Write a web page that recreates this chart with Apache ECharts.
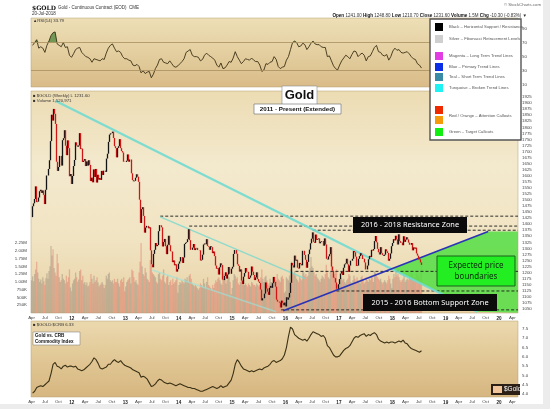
<!DOCTYPE html>
<html>
<head>
<meta charset="utf-8">
<script src="https://cdn.jsdelivr.net/npm/echarts@6/dist/echarts.min.js"></script>
<style>
html, body { margin: 0; padding: 0; background: #ececec; }
#paper { position: absolute; left: 0; top: 0; width: 543px; height: 404px; background: #ffffff; }
#chart { position: absolute; left: 0; top: 0; width: 550px; height: 409px; }
</style>
</head>
<body>
<div id="paper"></div>
<div id="chart"></div>
<script>
// weekly closes, one per Friday from 2011-04-01 to 2018-07-20
const firstWeek = '2011-04-01';
const closes = [
  // 2011
  1429,1474,1486,1504,1556, 1491,1493,1510,1536, 1542,1529,1539,1521, 1483,1542,1601,1601,1628, 1664,1743,1852,1828,
  1876,1856,1814,1658,1620, 1636,1682,1642,1747, 1755,1788,1724,1685, 1746,1714,1598,1607,1566,
  // 2012
  1599,1640,1665,1738, 1725,1720,1725,1776, 1710,1712,1657,1662,1669, 1640,1659,1642,1664, 1645,1578,1592,1573,
  1626,1595,1628,1572,1604, 1584,1590,1583,1620, 1603,1621,1616,1671,1691, 1740,1770,1775,1776, 1782,1756,1722,1714,
  1676,1715,1722,1751,1714, 1702,1696,1658,1657,
  // 2013
  1657,1662,1688,1658, 1667,1667,1610,1582, 1577,1579,1592,1606,1596, 1575,1501,1405,1462, 1470,1434,1365,1386,1393,
  1383,1387,1292,1234, 1222,1277,1294,1322, 1309,1314,1371,1396,1395, 1387,1308,1326,1339, 1309,1276,1315,1352,
  1313,1288,1287,1243,1250, 1230,1234,1204,1214,
  // 2014
  1237,1246,1264,1264,1240, 1262,1318,1323,1326, 1338,1379,1334,1294, 1303,1318,1293,1300, 1302,1293,1293,1292,1250,
  1253,1274,1316,1320, 1317,1338,1310,1307, 1294,1309,1305,1280,1287, 1268,1229,1216,1218, 1192,1222,1238,1231,1171,
  1169,1186,1201,1175, 1192,1223,1195,1195,
  // 2015
  1216,1224,1277,1293,1278, 1234,1228,1204,1213, 1167,1153,1183,1198, 1219,1204,1203,1174, 1179,1188,1225,1204,1190,
  1169,1180,1201,1173, 1163,1157,1130,1085,1094, 1094,1113,1159,1134, 1121,1108,1137,1145, 1137,1156,1182,1162,1142,
  1088,1080,1076,1056, 1084,1075,1065,1076,
  // 2016
  1060,1098,1088,1097,1116, 1158,1240,1230,1221, 1270,1249,1253,1220, 1217,1240,1235,1230,1290, 1290,1273,1253,1220,
  1244,1276,1295,1321, 1340,1366,1327,1323,1357, 1335,1338,1341,1321, 1327,1330,1311,1341,1316, 1257,1254,1267,1276,
  1305,1225,1208,1179, 1177,1159,1133,1133,1152,
  // 2017
  1173,1196,1204,1190, 1220,1234,1238,1257, 1234,1203,1229,1249,1249, 1257,1289,1284,1266, 1227,1229,1257,1268,
  1280,1272,1256,1257,1242, 1213,1229,1255,1269, 1264,1294,1291,1297, 1330,1351,1325,1298,1284, 1275,1305,1280,1273,
  1269,1274,1296,1288, 1281,1249,1257,1279,1309,
  // 2018
  1322,1338,1333,1352, 1337,1316,1358,1330, 1323,1324,1313,1350,1327, 1336,1346,1337,1324, 1315,1322,1292,1304,
  1299,1303,1279,1270,1254, 1255,1242,1231.6
];

// weekly volume, thousands of contracts
const volumes = [
  1050,1180,1020,1250,1400, 1650,1300,1100,1000, 1080,950,1150,1020, 900,1120,1280,1100,1350, 1500,2150,1850,2050,
  1450,1300,1200,1900,1600, 1150,1000,1050,1250, 1100,1050,950,1200, 1000,1150,1400,820,700,
  950,1050,1100,1300, 1150,1000,1080,1350, 1400,1050,1200,950,1000, 900,980,850,880, 1000,1250,1100,950,
  1200,1000,1050,1150,980, 850,900,950,1000, 920,800,900,1200,1100, 1250,1300,1050,1000, 1050,950,1100,1000,
  1000,1100,950,850,1050, 1100,1000,1150,700,
  850,1000,1050,1100, 1150,950,1400,1350, 1150,1000,1050,950,900, 1300,1650,2250,1500, 1250,1200,1450,1300,1100,
  1050,1000,1700,1550, 1300,1250,1200,1150, 1000,950,1250,1300,1100, 1050,1200,1400,1000, 950,1150,1200,900,
  1000,1050,900,1100,950, 1000,1050,1150,650,
  900,1000,950,1050,1000, 950,1100,1050,1150, 1000,1200,1250,1100, 950,900,850,900, 850,800,750,800,950,
  900,850,1100,950, 800,1000,1150,900, 850,800,750,900,800, 950,1050,1000,1100, 1150,1050,950,900,1300,
  1250,1100,950,1050, 1100,1150,1000,600,
  800,1050,1250,1200,1100, 1150,950,900,1000, 1100,1000,1050,900, 950,900,850,950, 900,850,1000,950,900,
  900,850,950,900, 850,900,1150,1400,1100, 1000,1150,1200,1050, 900,950,1100,1000, 1000,1150,1100,1000,1050,
  1250,1100,1050,1000, 1150,1200,1100,650,
  700,1150,1100,1050,1200, 1400,1650,1300,1250, 1350,1200,1100,1050, 1000,1150,1100,1050,1350, 1300,1200,1250,1150,
  1200,1350,1450,1800, 1500,1450,1300,1200,1250, 1150,1100,1050,1000, 1100,1200,1150,1100,1250, 1550,1300,1150,1100,
  1350,1900,1500,1300, 1250,1350,1400,900,750,
  1050,1150,1100,1050, 1100,1000,950,1050, 1100,1250,1200,1000,950, 1050,1200,1100,1000, 1150,1050,1000,950,
  1150,1200,1050,950,1000, 1150,1050,1000,1100, 1050,1200,1150,1000, 1350,1300,1200,1150,1100, 1050,1100,1000,950,
  1000,1050,1000,950, 1050,1200,1100,950,800,
  1100,1250,1150,1350, 1200,1250,1150,1050, 1000,1050,1100,1250,1000, 1050,1100,1050,1150, 1200,1300,1250,1100,
  1150,1100,1300,1250,1200, 1100,1300,1521
];

// RSI(14) and Gold:CRB ratio, read every second week (weeks 2, 4, 6 ...)
const rsiValues = [
  66,70,74,62,64,62,56,66,72,80,84,85,68,66,64,70,63,64,52,49,
  54,60,62,63,56,53,50,49,47,42,47,46,45,44,47,46,55,62,66,68,62,57,58,56,50,47,
  47,45,44,38,37,39,36,27,30,26,28,29,20,25,33,38,46,47,42,41,40,44,40,36,35,37,
  40,43,47,56,58,60,52,50,50,49,44,46,52,55,52,50,48,45,38,35,41,33,34,38,43,42,
  48,57,50,45,40,43,47,46,45,48,45,43,43,38,29,31,40,39,42,43,50,46,36,33,35,36,
  45,50,60,70,72,70,64,65,69,67,60,64,69,72,68,67,67,64,63,63,50,51,44,37,33,31,
  38,44,48,52,50,47,53,58,57,50,53,55,52,44,50,51,57,63,66,57,56,52,51,53,45,50,
  58,62,59,60,56,55,56,57,54,50,47,46,40,38,33.79
];
const ratioValues = [
  4.05,4.15,4.35,4.4,4.45,4.4,4.5,4.6,4.7,5.1,5.6,5.7,5.5,5.45,5.35,5.5,5.55,5.45,5.5,5.5,
  5.45,5.5,5.35,5.3,5.25,5.3,5.4,5.5,5.6,5.75,5.95,5.85,5.65,5.4,5.35,5.4,5.45,5.6,5.6,5.75,5.85,5.75,5.7,5.8,5.65,5.55,
  5.5,5.45,5.4,5.3,5.25,5.2,5.15,4.9,4.95,4.9,4.8,4.6,4.4,4.45,4.55,4.7,4.8,4.75,4.65,4.6,4.55,4.6,4.55,4.5,4.45,4.5,
  4.55,4.5,4.45,4.4,4.35,4.35,4.3,4.3,4.25,4.2,4.15,4.15,4.2,4.25,4.3,4.35,4.4,4.35,4.3,4.35,4.45,4.35,4.4,4.45,4.6,4.75,
  5.1,5.6,5.85,5.7,5.5,5.35,5.3,5.25,5.2,5.25,5.2,5.25,5.3,5.35,5.3,5.4,5.45,5.5,5.6,5.75,5.8,5.7,5.75,5.8,5.9,6.1,
  6.5,7.1,7.6,7.5,7.2,7.1,7.0,6.95,6.9,6.95,6.85,7.0,7.2,7.35,7.3,7.25,7.2,7.1,7.15,7.0,6.6,6.5,6.3,6.1,6.0,6.0,
  6.05,6.2,6.35,6.45,6.5,6.6,6.8,7.0,7.1,7.05,7.15,7.2,7.25,7.1,7.2,7.15,7.25,7.3,7.2,6.95,6.85,6.8,6.75,6.8,6.75,6.8,
  6.8,6.75,6.8,6.85,6.8,6.9,6.75,6.7,6.55,6.45,6.4,6.35,6.3,6.25,6.33
];

// axis labels
const priceTicks = [1050,1075,1100,1125,1150,1175,1200,1225,1250,1275,1300,1325,1350,1375,1400,1425,1450,1475,
  1500,1525,1550,1575,1600,1625,1650,1675,1700,1725,1750,1775,1800,1825,1850,1875,1900,1925];
const rsiTicks = [10, 30, 50, 70, 90];
const ratioTicks = [4.0, 4.5, 5.0, 5.5, 6.0, 6.5, 7.0, 7.5];
const volumeTicks = [250000, 500000, 750000, 1000000, 1250000, 1500000, 1750000, 2000000, 2250000];
const monthNames = ['Jan','Feb','Mar','Apr','May','Jun','Jul','Aug','Sep','Oct','Nov','Dec'];

// annotations drawn on the price panel
const levelPrices = [1433, 1392, 1375, 1205, 1124, 1046];
const levelStarts = ['2013-08-28', '2014-03-14', '2016-07-06', '2016-03-10', '2016-12-15', '2015-12-03'];
const trendStarts = ['2011-09-10', '2013-08-28', '2013-07-05', '2015-12-17'];
const trendStartPrices = [1910, 1430, 1211, 1042];
const trendEnds = ['2019-08-05', '2016-05-15', '2015-10-30', '2019-10-19'];
const trendEndPrices = [1038, 1175, 1038, 1370];
const trendColors = ['rgba(112,218,210,0.9)', 'rgba(120,216,206,0.8)', 'rgba(155,226,216,0.65)', '#2a32b5'];
const zoneDates = ['2017-12-29', '2019-10-19', '2020-05-10', '2020-05-10', '2019-08-05'];
const zonePrices = [1215, 1370, 1370, 1034, 1038];

const DAY = 86400000;
const t0 = Date.parse(firstWeek);
const weekTime = i => t0 + i * 7 * DAY;
const xMin = Date.parse('2011-03-28');
const xMax = Date.parse('2020-05-10');

const quarterTicks = [];
for (let y = 2011; y <= 2020; y++) {
  [0, 3, 6, 9].forEach(m => {
    const t = Date.UTC(y, m, 1);
    if (t > xMin && t < xMax) quarterTicks.push(t);
  });
}

const candles = closes.map((c, i) => {
  const o = i ? closes[i - 1] : c;
  return [weekTime(i), o, c, Math.min(o, c), Math.max(o, c)];
});
const volumeBars = volumes.map((v, i) => ({
  value: [weekTime(i), v * 1000],
  itemStyle: { color: (i && closes[i] < closes[i - 1]) ? 'rgba(226,128,112,0.5)' : 'rgba(160,146,128,0.5)' }
}));
const rsiData = rsiValues.map((v, k) => [weekTime(2 * k + 1), v]);
const rsiHot = rsiValues.map((v, k) => [weekTime(2 * k + 1), Math.max(v, 70)]);
const ratioData = ratioValues.map((v, k) => [weekTime(2 * k + 1), v]);

const FONT = '"Liberation Sans", Arial, sans-serif';
const tiny = { fontSize: 4.4, color: '#444', fontFamily: FONT };

const grad = stops => new echarts.graphic.LinearGradient(0, 0, 0, 1,
  stops.map((c, i) => ({ offset: i / (stops.length - 1), color: c })));

const timeAxis = (gridIndex, showLabels) => ({
  type: 'value', gridIndex, min: xMin, max: xMax,
  axisLine: { show: false }, axisTick: { show: false }, splitLine: { show: false },
  axisLabel: {
    show: showLabels, customValues: quarterTicks, margin: 3, ...tiny,
    formatter: v => {
      const d = new Date(v);
      const m = d.getUTCMonth();
      return m === 0 ? '{yr|' + String(d.getUTCFullYear()).slice(2) + '}' : monthNames[m];
    },
    rich: { yr: { fontSize: 4.6, fontWeight: 'bold', color: '#222', fontFamily: FONT } }
  }
});

const sideAxis = (gridIndex, min, max, ticks, position, formatter) => ({
  type: 'value', gridIndex, min, max, position, scale: true,
  axisLine: { show: false }, axisTick: { show: false }, splitLine: { show: false },
  axisLabel: { customValues: ticks, margin: 4, ...tiny, formatter }
});

const series = [];

// volume behind the price
series.push({
  type: 'bar', xAxisIndex: 2, yAxisIndex: 2, data: volumeBars, barWidth: 1.3,
  silent: true, z: 1, animation: false
});

// green target zone
series.push({
  type: 'custom', xAxisIndex: 1, yAxisIndex: 1, z: 2, silent: true, animation: false,
  data: [[xMin, 1200]],
  renderItem: (params, api) => ({
    type: 'polygon',
    shape: { points: zoneDates.map((d, i) => api.coord([Date.parse(d), zonePrices[i]])) },
    style: { fill: 'rgba(88,222,72,0.88)' }
  })
});

// horizontal support / resistance
levelPrices.forEach((p, i) => {
  series.push({
    type: 'line', xAxisIndex: 1, yAxisIndex: 1, z: 3, silent: true, animation: false,
    symbol: 'none', data: [[Date.parse(levelStarts[i]), p], [xMax, p]],
    lineStyle: { color: '#1a1a1a', width: 0.9, type: [3, 2] }
  });
});

// trend lines
trendStarts.forEach((d, i) => {
  series.push({
    type: 'line', xAxisIndex: 1, yAxisIndex: 1, z: 3, silent: true, animation: false,
    symbol: 'none',
    data: [[Date.parse(d), trendStartPrices[i]], [Date.parse(trendEnds[i]), trendEndPrices[i]]],
    lineStyle: { color: trendColors[i], width: i === 0 ? 2.2 : 1.6 }
  });
});

// price candles
series.push({
  type: 'candlestick', xAxisIndex: 1, yAxisIndex: 1, z: 4, silent: true, animation: false,
  data: candles, encode: { x: 0, y: [1, 2, 3, 4] }, barWidth: 1.2,
  itemStyle: { color: '#141414', color0: '#d01515', borderColor: '#141414', borderColor0: '#d01515', borderWidth: 1.3 }
});

// RSI
series.push({
  type: 'line', xAxisIndex: 0, yAxisIndex: 0, symbol: 'none', silent: true, animation: false,
  data: rsiHot, lineStyle: { width: 0 }, areaStyle: { origin: 70, color: '#3f7d32' }
});
series.push({
  type: 'line', xAxisIndex: 0, yAxisIndex: 0, symbol: 'none', silent: true, animation: false,
  data: rsiData, lineStyle: { color: '#3b3115', width: 0.9 },
  markLine: {
    silent: true, symbol: 'none', label: { show: false }, animation: false,
    lineStyle: { color: '#a98f5e', width: 0.8, type: 'solid' },
    data: [{ yAxis: 70 }, { yAxis: 30 }]
  }
});

// Gold : CRB
series.push({
  type: 'line', xAxisIndex: 3, yAxisIndex: 3, symbol: 'none', silent: true, animation: false,
  data: ratioData, lineStyle: { color: '#3b3115', width: 1.1 }
});

// text boxes and legend
const graphics = [];
const box = (x, y, w, h, fill, stroke, lw) => graphics.push({
  type: 'rect', z: 100, shape: { x, y, width: w, height: h },
  style: { fill, stroke: stroke || null, lineWidth: lw || 0 }
});
const label = (x, y, text, font, fill, align) => graphics.push({
  type: 'text', z: 101,
  style: { x, y, text, font, fill, align: align || 'left', verticalAlign: 'middle' }
});

// header
label(32, 8, '$GOLD', 'bold 6px "DejaVu Serif", serif', '#111');
label(58, 8, 'Gold - Continuous Contract (EOD)  CME', '4.5px ' + FONT, '#333');
label(32, 14, '20-Jul-2018', '4.5px ' + FONT, '#333');
label(541, 5, '\u00a9 StockCharts.com', '4.3px ' + FONT, '#666', 'right');
graphics.push({
  type: 'text', z: 101,
  style: {
    x: 527, y: 15.5, align: 'right', verticalAlign: 'middle', fill: '#333', font: '4.5px ' + FONT,
    text: '{b|Open} 1241.00 {b|High} 1248.80 {b|Low} 1210.70 {b|Close} 1231.60 {b|Volume} 1.5M {b|Chg} -10.30 (-0.83%) \u25bc',
    rich: { b: { fontWeight: 'bold', fontSize: 4.6, fill: '#111', fontFamily: FONT } }
  }
});
label(33, 21, '\u25b2RSI(14) 33.79', '4.3px ' + FONT, '#333');
label(33, 95.5, '\u25a0 $GOLD (Weekly) L 1231.60', '4.3px ' + FONT, '#333');
label(33, 101, '\u25a0 Volume 1,520,971', '4.3px ' + FONT, '#333');
label(33, 325, '\u25a0 $GOLD:$CRB 6.33', '4.3px ' + FONT, '#333');

// title boxes
box(282, 86, 35, 19, '#ffffff', '#8a8a8a', 0.6);
label(299.5, 95.5, 'Gold', 'bold 13px "Liberation Sans", Arial, sans-serif', '#111', 'center');
box(254, 104, 87, 10, '#ffffff', '#666', 0.6);
label(297.5, 109.2, '2011 - Present (Extended)', 'bold 6.2px "Liberation Sans", Arial, sans-serif', '#111', 'center');

box(353, 217, 114, 16, '#0b0b0b');
label(410, 225.3, '2016 - 2018 Resistance Zone', '7.4px "Noto Sans", sans-serif', '#ffffff', 'center');
box(363, 294, 134, 17, '#0b0b0b');
label(430, 302.8, '2015 - 2016 Bottom Support Zone', '7.4px "Noto Sans", sans-serif', '#ffffff', 'center');
box(437, 256, 78, 30, '#22ee22', '#1d5e1d', 1);
graphics.push({
  type: 'text', z: 101,
  style: { x: 476, y: 271, text: 'Expected price\nboundaries', font: '8px "Noto Sans", sans-serif',
    fill: '#0d2a0d', align: 'center', verticalAlign: 'middle', lineHeight: 11 }
});

// legend
const legendColors = ['#000000', '#cfcfcf', '#e23de2', '#0b2ee6', '#3a8ca6', '#1ff2f2', '#f02a00', '#f59a0a', '#12ee12'];
const legendRows = [27, 39, 56, 67, 77, 88, 110, 120, 132];
const legendTexts = ['Black \u2013 Horizontal Support / Resistance', 'Silver \u2013 Fibonacci Retracement Levels',
  'Magenta \u2013 Long Term Trend Lines', 'Blue \u2013 Primary Trend Lines', 'Teal \u2013 Short Term Trend Lines',
  'Turquoise \u2013 Broken Trend Lines', '', 'Red / Orange \u2013 Attention Callouts', 'Green \u2013 Target Callouts'];
box(430, 19, 91, 121, '#ffffff', '#555555', 1.4);
legendColors.forEach((c, i) => {
  box(435, legendRows[i] - 4, 8, 8, c);
  if (legendTexts[i]) {
    label(449, i === 7 ? 115.5 : legendRows[i], legendTexts[i], '4.2px ' + FONT, '#555');
  }
});

// ratio panel note and logo
box(33, 332, 47, 13, '#ffffff', '#777', 0.5);
graphics.push({
  type: 'text', z: 101,
  style: { x: 35, y: 338.5, text: 'Gold vs. CRB\nCommodity Index', font: 'bold 4.6px ' + FONT,
    fill: '#111', verticalAlign: 'middle', lineHeight: 5.6 }
});
box(491, 384, 29, 11, '#2c2016');
box(493, 386, 9, 7, '#f2c49a');
label(504, 389.7, '$Gold', '6.5px ' + FONT, '#ffffff');

const option = {
  animation: false,
  backgroundColor: 'transparent',
  grid: [
    { left: 31, right: 32, top: 18, height: 69, show: true, borderColor: '#b49c70', borderWidth: 0.5,
      backgroundColor: grad(['#eddfb7', '#e4cfa0', '#d9bb88']), outerBoundsMode: 'none' },
    { left: 31, right: 32, top: 91, height: 222, show: true, borderColor: '#b49c70', borderWidth: 0.5,
      backgroundColor: grad(['#ecdcb3', '#f3e9cd', '#f1e4c3', '#e7d0a2']), outerBoundsMode: 'none' },
    { left: 31, right: 32, top: 236, height: 77, show: false, outerBoundsMode: 'none' },
    { left: 31, right: 32, top: 321, height: 76, show: true, borderColor: '#b49c70', borderWidth: 0.5,
      backgroundColor: grad(['#ebd9af', '#e1c795', '#d6b680']), outerBoundsMode: 'none' }
  ],
  xAxis: [timeAxis(0, false), timeAxis(1, true), timeAxis(2, false), timeAxis(3, true)],
  yAxis: [
    sideAxis(0, 6.9, 104.8, rsiTicks, 'right', v => String(v)),
    sideAxis(1, 1033, 1950, priceTicks, 'right', v => String(v)),
    sideAxis(2, 0, 2475000, volumeTicks, 'left', v => v >= 1000000 ? (v / 1000000).toFixed(2) + 'M' : (v / 1000) + 'K'),
    sideAxis(3, 3.84, 7.93, ratioTicks, 'right', v => v.toFixed(1))
  ],
  series,
  graphic: graphics
};

const chart = echarts.init(document.getElementById('chart'));
chart.setOption(option);
</script>
</body>
</html>
